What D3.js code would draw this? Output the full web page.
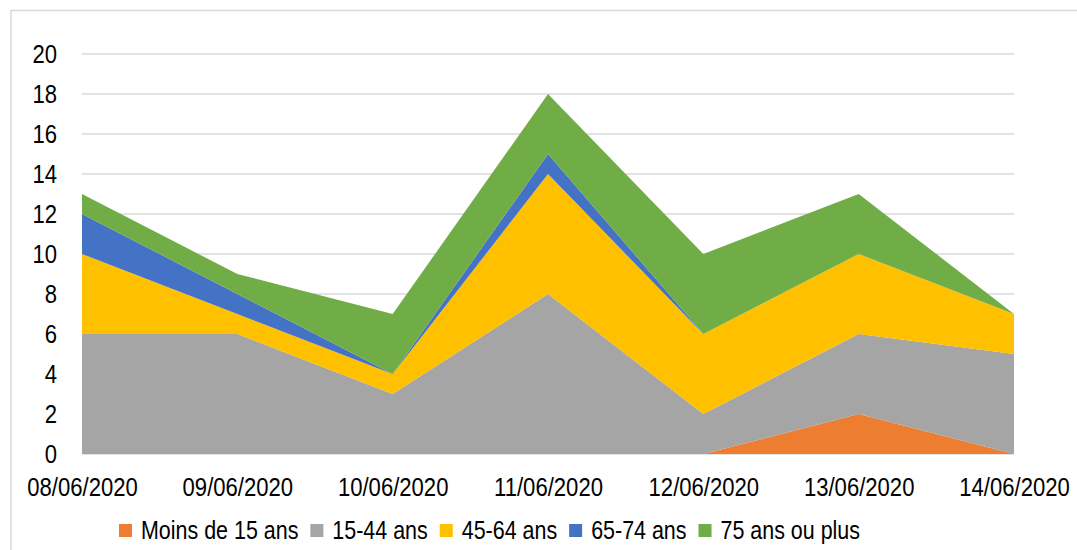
<!DOCTYPE html>
<html><head><meta charset="utf-8">
<script src="https://cdn.jsdelivr.net/npm/d3@7"></script>
<style>
html,body{margin:0;padding:0;background:#fff;}
svg{display:block;}
text{font-family:"Liberation Sans",Arial,sans-serif;fill:#000;}
</style></head>
<body>
<svg id="chart" width="1077" height="550"></svg>
<script>
const dates = ["08/06/2020","09/06/2020","10/06/2020","11/06/2020","12/06/2020","13/06/2020","14/06/2020"];
const seriesNames = ["Moins de 15 ans","15-44 ans","45-64 ans","65-74 ans","75 ans ou plus"];
const moins15 = [0,0,0,0,0,2,0];
const ans15_44 = [6,6,3,8,2,4,5];
const ans45_64 = [4,1,1,6,4,4,2];
const ans65_74 = [2,1,0,1,0,0,0];
const ans75plus = [1,1,3,3,4,3,0];
const yTicks = [0,2,4,6,8,10,12,14,16,18,20];
const colors = ["#ED7D31","#A5A5A5","#FFC000","#4472C4","#70AD47"];

const seriesValues = [moins15, ans15_44, ans45_64, ans65_74, ans75plus];
const table = dates.map((d,i)=>{
  const row = {date:d};
  seriesNames.forEach((s,j)=>row[s]=seriesValues[j][i]);
  return row;
});

const SX = 0.85;
const SXL = 0.825;
const FS = 26;
const svg = d3.select("#chart");
// outer frame
svg.append("rect").attr("x",11).attr("y",10.5).attr("width",1100).attr("height",600)
  .attr("fill","none").attr("stroke","#d9d9d9").attr("stroke-width",1.5);

const x = d3.scalePoint().domain(dates).range([82,1014]);
const y = d3.scaleLinear().domain([0,20]).range([454,54]);

// gridlines
svg.append("g").selectAll("line").data(yTicks).join("line")
  .attr("x1",82).attr("x2",1014)
  .attr("y1",d=>y(d)).attr("y2",d=>y(d))
  .attr("stroke","#d9d9d9").attr("stroke-width",1.5);

const stack = d3.stack().keys(seriesNames);
const stacked = stack(table);
const area = d3.area()
  .x(d=>x(d.data.date))
  .y0(d=>y(d[0]))
  .y1(d=>y(d[1]));

svg.append("g").selectAll("path").data(stacked).join("path")
  .attr("d",area)
  .attr("fill",(d,i)=>colors[i]);

// y axis labels
const yAxis = d3.axisLeft(y).tickValues(yTicks).tickSize(0).tickPadding(0);
const gy = svg.append("g").attr("transform","translate(57,0)").call(yAxis);
gy.select(".domain").remove();
gy.selectAll("text").attr("font-size",FS).attr("dy","0.34em").attr("x",0)
  .attr("transform",`scale(${SX},1)`)
  .style("font-family",'"Liberation Sans",Arial,sans-serif').attr("fill","#000");

// x axis labels
const xAxis = d3.axisBottom(x).tickSize(0).tickPadding(0);
const gx = svg.append("g").attr("transform","translate(0,478)").call(xAxis);
gx.select(".domain").remove();
gx.selectAll("text").attr("font-size",FS).attr("dy","0.71em")
  .attr("transform",`scale(${SX},1)`)
  .style("font-family",'"Liberation Sans",Arial,sans-serif').attr("fill","#000");

// legend
const leg = svg.append("g");
let lx = 119;
seriesNames.forEach((s,i)=>{
  leg.append("rect").attr("x",lx).attr("y",524).attr("width",13).attr("height",13).attr("fill",colors[i]);
  const t = leg.append("text")
    .attr("transform",`translate(${lx+22},530) scale(${SXL},1)`)
    .attr("dy","0.35em")
    .attr("font-size",FS).text(s);
  const w = t.node().getComputedTextLength()*SXL;
  lx += 22 + w + 12;
});
</script>
</body></html>
